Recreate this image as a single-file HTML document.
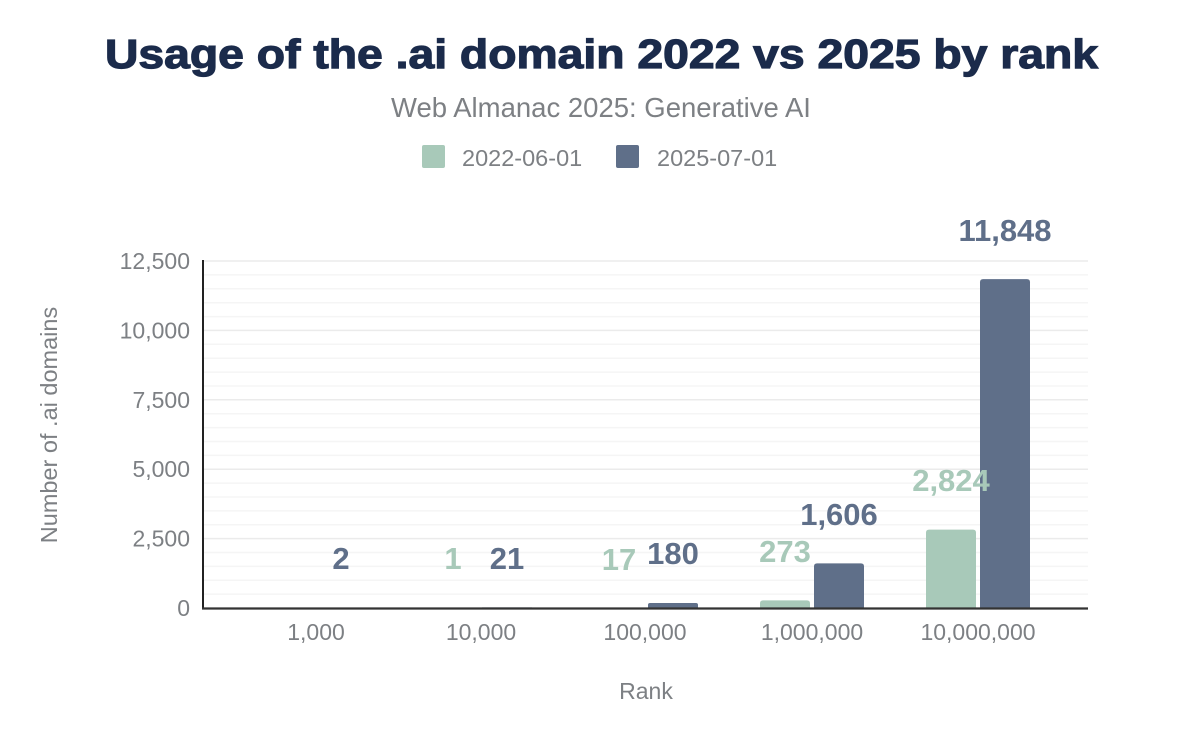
<!DOCTYPE html>
<html>
<head>
<meta charset="utf-8">
<style>
  html, body { margin: 0; padding: 0; background: #ffffff; }
  svg { display: block; }
  text { font-family: "Liberation Sans", Arial, sans-serif; }
</style>
</head>
<body>
<svg width="1200" height="742" viewBox="0 0 1200 742" xmlns="http://www.w3.org/2000/svg">
  <rect x="0" y="0" width="1200" height="742" fill="#ffffff"/>

  <!-- Title -->
  <text x="105" y="68" font-size="41" font-weight="bold" fill="#1b2b4b" stroke="#1b2b4b" stroke-width="1.2" textLength="993" lengthAdjust="spacingAndGlyphs">Usage of the .ai domain 2022 vs 2025 by rank</text>
  <!-- Subtitle -->
  <text x="601" y="117" font-size="27.5" fill="#7d8084" text-anchor="middle">Web Almanac 2025: Generative AI</text>

  <!-- Legend -->
  <rect x="422" y="145" width="23" height="23" rx="2" fill="#a8c9b9"/>
  <text x="462" y="166" font-size="23.5" fill="#7d8084">2022-06-01</text>
  <rect x="616" y="145" width="23" height="23" rx="2" fill="#5f6f89"/>
  <text x="657" y="166" font-size="23.5" fill="#7d8084">2025-07-01</text>

  <!-- Minor gridlines (every 500) -->
  <g stroke="#f5f5f5" stroke-width="1.5">
    <line x1="204" x2="1088" y1="594.1" y2="594.1"/>
    <line x1="204" x2="1088" y1="580.2" y2="580.2"/>
    <line x1="204" x2="1088" y1="566.4" y2="566.4"/>
    <line x1="204" x2="1088" y1="552.5" y2="552.5"/>
    <line x1="204" x2="1088" y1="524.8" y2="524.8"/>
    <line x1="204" x2="1088" y1="510.9" y2="510.9"/>
    <line x1="204" x2="1088" y1="497.0" y2="497.0"/>
    <line x1="204" x2="1088" y1="483.1" y2="483.1"/>
    <line x1="204" x2="1088" y1="455.4" y2="455.4"/>
    <line x1="204" x2="1088" y1="441.5" y2="441.5"/>
    <line x1="204" x2="1088" y1="427.6" y2="427.6"/>
    <line x1="204" x2="1088" y1="413.7" y2="413.7"/>
    <line x1="204" x2="1088" y1="386.0" y2="386.0"/>
    <line x1="204" x2="1088" y1="372.1" y2="372.1"/>
    <line x1="204" x2="1088" y1="358.2" y2="358.2"/>
    <line x1="204" x2="1088" y1="344.3" y2="344.3"/>
    <line x1="204" x2="1088" y1="316.6" y2="316.6"/>
    <line x1="204" x2="1088" y1="302.7" y2="302.7"/>
    <line x1="204" x2="1088" y1="288.8" y2="288.8"/>
    <line x1="204" x2="1088" y1="274.9" y2="274.9"/>
  </g>
  <!-- Major gridlines -->
  <g stroke="#ebebeb" stroke-width="1.5">
    <line x1="204" x2="1088" y1="538.6" y2="538.6"/>
    <line x1="204" x2="1088" y1="469.2" y2="469.2"/>
    <line x1="204" x2="1088" y1="399.8" y2="399.8"/>
    <line x1="204" x2="1088" y1="330.4" y2="330.4"/>
    <line x1="204" x2="1088" y1="261" y2="261"/>
  </g>

  <!-- Y tick labels -->
  <g font-size="23" fill="#7d8084" text-anchor="end">
    <text x="190" y="616">0</text>
    <text x="190" y="546.6">2,500</text>
    <text x="190" y="477.2">5,000</text>
    <text x="190" y="407.8">7,500</text>
    <text x="190" y="338.4">10,000</text>
    <text x="190" y="269">12,500</text>
  </g>

  <!-- Y axis title -->
  <text transform="translate(57,425) rotate(-90)" font-size="23.5" fill="#7d8084" text-anchor="middle">Number of .ai domains</text>

  <!-- Bars: green (2022) -->
  <g fill="#a8c9b9">
    <rect x="428" y="607.97" width="50" height="0.03"/>
    <rect x="594" y="607.53" width="50" height="0.47"/>
    <path d="M760,608 V603.4 Q760,600.4 763,600.4 H807 Q810,600.4 810,603.4 V608 Z"/>
    <path d="M926,608 V532.6 Q926,529.6 929,529.6 H973 Q976,529.6 976,532.6 V608 Z"/>
  </g>
  <!-- Bars: blue (2025) -->
  <g fill="#5f6f89">
    <rect x="316" y="607.94" width="50" height="0.06"/>
    <rect x="482" y="607.4" width="50" height="0.6"/>
    <path d="M648,608 V605 Q648,603 650,603 H696 Q698,603 698,605 V608 Z"/>
    <path d="M814,608 V566.4 Q814,563.4 817,563.4 H861 Q864,563.4 864,566.4 V608 Z"/>
    <path d="M980,608 V282.1 Q980,279.1 983,279.1 H1027 Q1030,279.1 1030,282.1 V608 Z"/>
  </g>

  <!-- Axes -->
  <line x1="203" y1="260" x2="203" y2="609" stroke="#222" stroke-width="2"/>
  <line x1="202" y1="608.5" x2="1088" y2="608.5" stroke="#333" stroke-width="2.2"/>

  <!-- X tick labels -->
  <g font-size="23" fill="#7d8084" text-anchor="middle">
    <text x="316" y="640">1,000</text>
    <text x="481" y="640">10,000</text>
    <text x="645" y="640">100,000</text>
    <text x="812" y="640">1,000,000</text>
    <text x="978" y="640">10,000,000</text>
  </g>

  <!-- X axis title -->
  <text x="646" y="699" font-size="23" fill="#7d8084" text-anchor="middle">Rank</text>

  <!-- Data labels -->
  <g font-size="31" font-weight="bold" text-anchor="middle">
    <text x="341" y="569" fill="#5f6f89">2</text>
    <text x="453" y="569" fill="#a8c9b9">1</text>
    <text x="507" y="569" fill="#5f6f89">21</text>
    <text x="619" y="570" fill="#a8c9b9">17</text>
    <text x="673" y="564" fill="#5f6f89">180</text>
    <text x="785" y="562" fill="#a8c9b9">273</text>
    <text x="839" y="525" fill="#5f6f89">1,606</text>
    <text x="951" y="491" fill="#a8c9b9">2,824</text>
    <text x="1005" y="241" fill="#5f6f89">11,848</text>
  </g>
</svg>
</body>
</html>
